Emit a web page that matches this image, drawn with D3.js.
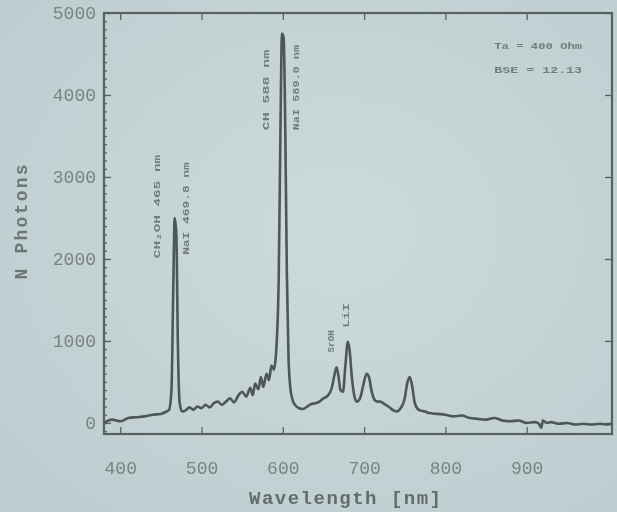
<!DOCTYPE html>
<html>
<head>
<meta charset="utf-8">
<script src="https://cdn.jsdelivr.net/npm/d3@7"></script>
<style>
  html, body { margin: 0; padding: 0; background: #c6d4d6; }
  svg { display: block; }
  .tick text { font-family: "Liberation Mono", monospace; }
</style>
</head>
<body>
<svg id="chart" width="617" height="512"></svg>
<script>
// wavelength in nm, counts in photons
const wavelengths = [380, 390, 400, 410, 420, 430, 440, 450, 455, 460, 463, 465, 467, 469, 471, 473, 476,
  480, 485, 490, 495, 500, 505, 510, 515, 520, 525, 530, 535, 540, 545, 550, 555, 560, 563, 566, 570,
  573, 576, 580, 583, 586, 589, 592, 595, 597, 599, 601, 603, 605, 607, 609, 612, 615, 620, 625, 630,
  635, 640, 645, 650, 655, 660, 663, 666, 668, 671, 674, 677, 680, 682, 685, 688, 691, 695, 699, 703,
  706, 709, 713, 717, 720, 725, 730, 735, 740, 745, 750, 753, 756, 759, 762, 766, 770, 775, 780, 790,
  800, 810, 820, 830, 840, 850, 860, 870, 880, 890, 900, 910, 915, 918, 920, 925, 930, 940, 950, 960,
  970, 980, 990, 1000, 1005];
const photons = [0, 40, 20, 60, 70, 80, 100, 110, 130, 160, 400, 1500, 2500, 2300, 900, 250, 140,
  150, 190, 160, 200, 180, 220, 190, 240, 260, 220, 260, 300, 250, 330, 380, 320, 430, 340, 480, 410,
  560, 440, 600, 520, 700, 650, 900, 1800, 3500, 4750, 4700, 3600, 1800, 800, 450, 280, 220, 180, 170, 200,
  230, 240, 260, 300, 330, 420, 560, 680, 600, 400, 380, 700, 990, 900, 550, 330, 260, 300, 460, 600,
  560, 400, 280, 260, 260, 230, 200, 160, 140, 180, 300, 480, 560, 460, 260, 170, 150, 140, 120, 110,
  100, 80, 90, 60, 50, 40, 60, 30, 20, 30, 0, 10, -10, -60, 30, 0, 10, -10, 0, -20,
  -10, -20, -10, -20, -10];

const yMajorTicks = [0, 1000, 2000, 3000, 4000, 5000];
const xMajorTicks = [400, 500, 600, 700, 800, 900];

// peak annotations (rotated text), anchored at wavelength / photon count of their two ends
const peakLabels = ["CH\u2082OH 465 nm", "NaI 469.8 nm", "CH 588 nm", "NaI 589.0 nm", "SrOH", "LiI"];
const peakLabelWl = [445, 481, 579, 616, 659, 678];
const peakLabelLow = [2010, 2050, 3570, 3570, 860, 1160];
const peakLabelHigh = [3270, 3180, 4550, 4610, 1130, 1460];

const infoLines = ["Ta = 400 Ohm", "BSE =  12.13"];

const svg = d3.select("#chart");
const W = 617, H = 512;
const frame = { left: 104, right: 612, top: 13, bottom: 434 };

// photo-like background
const defs = svg.append("defs");
const bg = defs.append("radialGradient").attr("id", "bg").attr("cx", "55%").attr("cy", "45%").attr("r", "75%");
bg.append("stop").attr("offset", "0%").attr("stop-color", "#ccdadb");
bg.append("stop").attr("offset", "100%").attr("stop-color", "#bdcccf");
defs.append("filter").attr("id", "soft")
  .append("feGaussianBlur").attr("stdDeviation", 0.6);

svg.append("rect").attr("width", W).attr("height", H).attr("fill", "url(#bg)");

const x = d3.scaleLinear().domain([380, 1005]).range([frame.left, frame.right]);
const y = d3.scaleLinear().domain([-135, 5000]).range([frame.bottom, frame.top]);

const g = svg.append("g").attr("filter", "url(#soft)");

const axisColor = "#596062";
const labelColor = "#7a8384";

function styleAxis(sel, fontSize) {
  sel.select(".domain").remove();
  sel.selectAll(".tick line").attr("stroke", axisColor).attr("stroke-width", 1.3);
  sel.selectAll(".tick text").attr("fill", labelColor).attr("font-size", fontSize);
}

// left axis: major + minor ticks
g.append("g").attr("transform", `translate(${frame.left},0)`)
  .call(d3.axisLeft(y).tickValues(d3.range(-100, 5000, 100)).tickSize(-3).tickFormat(""))
  .call(s => styleAxis(s, 0));
g.append("g").attr("transform", `translate(${frame.left},0)`)
  .call(d3.axisLeft(y).tickValues(yMajorTicks).tickSize(-7).tickPadding(8).tickFormat(d3.format("d")))
  .call(s => styleAxis(s, 18));

// right axis ticks
g.append("g").attr("transform", `translate(${frame.right},0)`)
  .call(d3.axisRight(y).tickValues(yMajorTicks).tickSize(-7).tickFormat(""))
  .call(s => styleAxis(s, 0));

// bottom axis
g.append("g").attr("transform", `translate(0,${frame.bottom})`)
  .call(d3.axisBottom(x).tickValues(xMajorTicks).tickSize(-7).tickPadding(27).tickFormat(d3.format("d")))
  .call(s => styleAxis(s, 18));

// top axis ticks
g.append("g").attr("transform", `translate(0,${frame.top})`)
  .call(d3.axisTop(x).tickValues(xMajorTicks).tickSize(-7).tickFormat(""))
  .call(s => styleAxis(s, 0));

// frame
g.append("rect")
  .attr("x", frame.left).attr("y", frame.top)
  .attr("width", frame.right - frame.left).attr("height", frame.bottom - frame.top)
  .attr("fill", "none").attr("stroke", axisColor).attr("stroke-width", 2.2);

// spectrum
const data = wavelengths.map((w, i) => ({ w: w, n: photons[i] }));
const line = d3.line()
  .x(d => x(d.w))
  .y(d => y(d.n))
  .curve(d3.curveMonotoneX);

g.append("path")
  .datum(data)
  .attr("d", line)
  .attr("fill", "none")
  .attr("stroke", "#4f5658")
  .attr("stroke-width", 2.6)
  .attr("stroke-linejoin", "round");

// peak annotations
peakLabels.forEach((txt, i) => {
  const px = x(peakLabelWl[i]);
  const py = y(peakLabelLow[i]);
  const len = y(peakLabelLow[i]) - y(peakLabelHigh[i]);
  g.append("text")
    .attr("transform", `translate(${px},${py}) rotate(-90)`)
    .attr("dy", "0.35em")
    .attr("textLength", len)
    .attr("lengthAdjust", "spacingAndGlyphs")
    .attr("font-family", "Liberation Mono, monospace")
    .attr("font-weight", "bold")
    .attr("font-size", 9)
    .attr("fill", "#737c7d")
    .text(txt);
});

// run info, top right
infoLines.forEach((txt, i) => {
  g.append("text")
    .attr("x", x(860))
    .attr("y", frame.top + 36 + i * 24)
    .attr("textLength", 88)
    .attr("lengthAdjust", "spacingAndGlyphs")
    .attr("font-family", "Liberation Mono, monospace")
    .attr("font-weight", "bold")
    .attr("font-size", 9)
    .attr("fill", "#737c7d")
    .text(txt);
});

// axis titles
g.append("text")
  .attr("x", (frame.left + frame.right) / 2 - 13)
  .attr("y", 504)
  .attr("text-anchor", "middle")
  .attr("textLength", 192)
  .attr("font-family", "Liberation Mono, monospace")
  .attr("font-weight", "bold")
  .attr("font-size", 19)
  .attr("fill", "#646c6d")
  .text("Wavelength [nm]");

g.append("text")
  .attr("transform", `translate(27,222) rotate(-90)`)
  .attr("text-anchor", "middle")
  .attr("textLength", 115)
  .attr("font-family", "Liberation Mono, monospace")
  .attr("font-weight", "bold")
  .attr("font-size", 18)
  .attr("fill", "#6e7677")
  .text("N Photons");
</script>
</body>
</html>
